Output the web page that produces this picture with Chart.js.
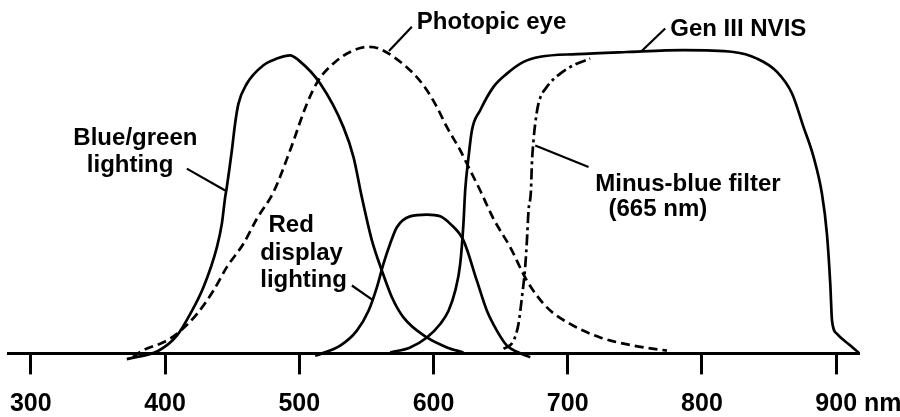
<!DOCTYPE html>
<html>
<head>
<meta charset="utf-8">
<script src="https://cdn.jsdelivr.net/npm/chart.js@4"></script>
<style>
html,body{margin:0;padding:0;background:#fff;}
#wrap{width:900px;height:417px;}
</style>
</head>
<body>
<div id="wrap"><canvas id="c" width="900" height="417"></canvas></div>
<script>
// ---- Tick values / labels (wavelength, nm) ----
const tickValues = [300, 400, 500, 600, 700, 800, 900];
const tickLabels = ['300', '400', '500', '600', '700', '800', '900'];
const axisUnit = ' nm';

// ---- Series (relative response) ----
const blueGreenNm  = [371.5, 395.1, 408.8, 418.7, 428.6, 438.6, 442.3, 444.8, 446, 449.8, 452.2, 454.7, 461, 473.3, 483.3, 493.2, 499.4, 515.6, 532.9, 540.4, 546.6, 554.1, 561.5, 569, 577.6, 595.1, 610, 622.3];
const blueGreenVal = [-1.9, 0.9, 5.9, 13.1, 22, 35.3, 43.1, 52, 55.3, 67.6, 76.5, 83.1, 89.8, 95.9, 98.1, 99.2, 97.6, 89.8, 75.3, 65.3, 52, 37.6, 27.6, 18.7, 12, 5.3, 2, 0.3];

const photopicNm  = [376, 383.9, 398.8, 408.8, 423.7, 436.1, 446, 458.4, 468.4, 480.8, 493.2, 505.7, 514.3, 525.5, 537.9, 551.6, 559, 570.2, 585.1, 595.1, 602.5, 610, 619.9, 624.9, 634.8, 644.7, 657.2, 669.6, 684.5, 701.8, 724.2, 749, 773.9];
const photopicVal = [-1.2, 1.1, 3.7, 6.5, 13.1, 20.9, 28.7, 36.5, 44.8, 53.7, 67.6, 83.1, 90.9, 96.5, 100.3, 102, 101.5, 98.7, 93.1, 87.6, 82, 75.3, 67.6, 63.1, 54.2, 44.8, 35.3, 24.2, 15.3, 9.8, 5.3, 2.6, 0.9];

const redDisplayNm  = [511.8, 530.5, 542.9, 551.6, 557.8, 562.7, 567.7, 572.7, 582.6, 595.1, 605, 612.5, 622.3, 632.3, 639.8, 647.2, 654.7, 663.4, 672.1];
const redDisplayVal = [-0.8, 2.6, 7.6, 14.2, 22, 29.8, 36.5, 42, 45.6, 46.2, 45.6, 43.1, 37.6, 24.2, 14.2, 7.6, 2.6, 0.3, -1.3];

const genIIINm  = [567.7, 582.6, 595.1, 605, 611.2, 616.2, 619.9, 622.3, 623.6, 626.1, 628.6, 634.8, 644.7, 654.7, 667.1, 679.5, 706.9, 744.1, 786.3, 823.5, 841, 855.9, 867.1, 875.7, 883.2, 889.4, 893.1, 895.6, 896.9, 900.6, 909.2, 916.7];
const genIIIVal = [0.3, 2, 5.3, 9.8, 14.2, 20.9, 29.8, 43.1, 54.2, 65.3, 74.2, 80.9, 88.7, 93.1, 97, 98.7, 99.6, 100.3, 100.9, 100.3, 98.1, 93.7, 86.5, 75.3, 65.3, 53.1, 39.8, 23.1, 10.9, 6.5, 3.1, 0.3];

const minusBlueNm  = [652.2, 659.6, 663.3, 665.9, 668.3, 669.6, 670.8, 672.6, 673.3, 674.5, 675.8, 678.2, 684.5, 694.4, 704.3, 716.7];
const minusBlueVal = [1.5, 4.2, 9.8, 18.7, 28.7, 37.6, 47.6, 54.2, 63.1, 70.9, 76.5, 83.1, 88.7, 93.1, 95.9, 98.1];

// ---- Annotation texts ----
const annotationTexts = ['Photopic eye', 'Gen III NVIS', 'Blue/green', 'lighting', 'Red', 'display', 'lighting', 'Minus-blue filter', '(665 nm)'];

// positions (in data units: nm, response) for the text anchors (left, baseline)
const annotationAnchors = [
  [587.6, 108.0], [776.4, 105.7], [331.7, 69.2], [341.7, 60.2],
  [477.1, 40.3], [470.9, 31.2], [470.9, 22.2], [720.5, 54.2], [730.4, 45.6]
];
// leader lines (data units): [nm1, v1, nm2, v2]
const leaderLines = [
  [583.9, 108.7, 566.8, 100.6],
  [772.6, 108.1, 755.3, 100.7],
  [416.2, 61.5, 444.8, 54.2],
  [539.2, 22.6, 554.3, 17.9],
  [715.5, 62.0, 675.8, 69.2]
];

const FONT = '"Liberation Sans", Arial, Helvetica, sans-serif';

function pts(xs, ys) { return xs.map((x, i) => ({ x: x, y: ys[i] })); }

function series(label, xs, ys, dash) {
  return {
    label: label,
    data: pts(xs, ys),
    borderColor: '#000',
    borderWidth: 2.7,
    borderDash: dash,
    pointRadius: 0,
    fill: false,
    cubicInterpolationMode: 'monotone',
    clip: false
  };
}

const annotationPlugin = {
  id: 'annotations',
  afterDraw(chart) {
    const ctx = chart.ctx;
    const xs = chart.scales.x, ys = chart.scales.y;
    ctx.save();
    // leader lines
    ctx.strokeStyle = '#000';
    ctx.lineWidth = 2.2;
    ctx.lineCap = 'butt';
    leaderLines.forEach(l => {
      ctx.beginPath();
      ctx.moveTo(xs.getPixelForValue(l[0]), ys.getPixelForValue(l[1]));
      ctx.lineTo(xs.getPixelForValue(l[2]), ys.getPixelForValue(l[3]));
      ctx.stroke();
    });
    // texts
    ctx.fillStyle = '#000';
    ctx.font = 'bold 24px ' + FONT;
    ctx.textAlign = 'left';
    ctx.textBaseline = 'alphabetic';
    annotationTexts.forEach((t, i) => {
      const a = annotationAnchors[i];
      ctx.fillText(t, xs.getPixelForValue(a[0]), ys.getPixelForValue(a[1]));
    });
    // unit after last tick label
    const tf = 'bold 25px ' + FONT;
    ctx.font = tf;
    const lastVal = tickValues[tickValues.length - 1];
    const lastLbl = tickLabels[tickLabels.length - 1];
    const px = xs.getPixelForValue(lastVal) + ctx.measureText(lastLbl).width / 2;
    const opt = xs.options;
    const py = xs.top + opt.grid.tickLength + opt.ticks.padding + 25 * 1.2 / 2;
    ctx.textBaseline = 'middle';
    ctx.fillText(axisUnit, px, py);
    ctx.restore();
  }
};

new Chart(document.getElementById('c'), {
  type: 'line',
  data: {
    datasets: [
      series('Blue/green lighting', blueGreenNm, blueGreenVal, []),
      series('Photopic eye', photopicNm, photopicVal, [9, 5]),
      series('Red display lighting', redDisplayNm, redDisplayVal, []),
      series('Gen III NVIS', genIIINm, genIIIVal, []),
      series('Minus-blue filter (665 nm)', minusBlueNm, minusBlueVal, [11, 4, 3, 4])
    ]
  },
  options: {
    responsive: false,
    animation: false,
    devicePixelRatio: 1,
    layout: { padding: { left: 8, right: 41, top: 0, bottom: -17.4 } },
    plugins: { legend: { display: false }, tooltip: { enabled: false } },
    scales: {
      x: {
        type: 'linear',
        position: 'bottom',
        min: 283,
        max: 917,
        afterBuildTicks: (s) => { s.ticks = tickValues.map(v => ({ value: v })); },
        afterFit: (s) => { s.paddingLeft = 0; s.paddingRight = 0; },
        ticks: {
          callback: (v) => { const i = tickValues.indexOf(v); return i >= 0 ? tickLabels[i] : ''; },
          font: { family: FONT, size: 25, weight: 'bold' },
          color: '#000',
          padding: 15,
          maxRotation: 0,
          autoSkip: false
        },
        grid: { drawOnChartArea: false, drawTicks: true, tickLength: 21, tickWidth: 3, tickColor: '#000' },
        border: { display: true, color: '#000', width: 3 }
      },
      y: {
        display: false,
        min: 0,
        max: 117.6
      }
    }
  },
  plugins: [annotationPlugin]
});
</script>
</body>
</html>
